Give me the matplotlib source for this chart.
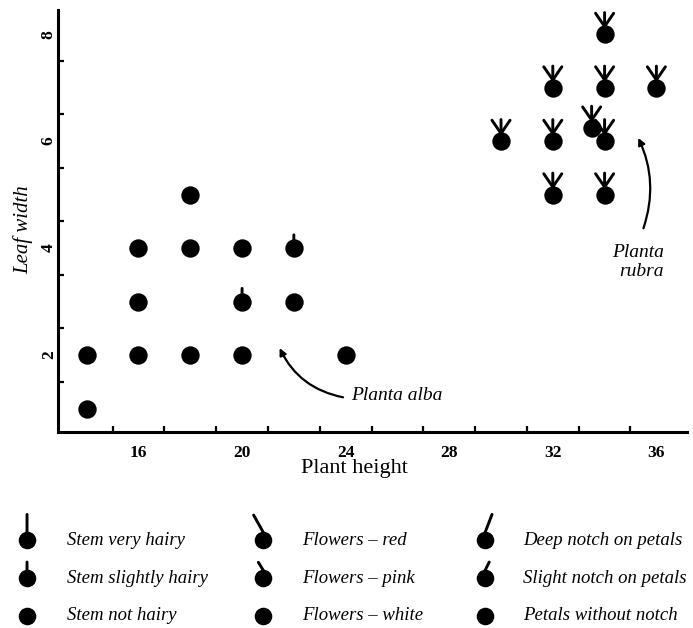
import numpy as np
import matplotlib.pyplot as plt
from matplotlib import transforms
from matplotlib.ticker import FixedLocator

plt.rcParams['font.family'] = ['Liberation Serif', 'DejaVu Serif']

# plant data: height, leaf width, hairiness / flower colour / notch (0 none, 1 slight, 2 strong)
height = [14, 14, 16, 18, 20, 24, 16, 20, 22, 16, 18, 20, 22, 18,
          30, 32, 33.5, 34, 32, 34, 32, 34, 36, 34]
width = [1, 2, 2, 2, 2, 2, 3, 3, 3, 4, 4, 4, 4, 5,
         6, 6, 6.25, 6, 5, 5, 7, 7, 7, 8]
hair = [0, 0, 0, 0, 0, 0, 0, 1, 0, 0, 0, 0, 1, 0,
        2, 2, 2, 2, 2, 2, 2, 2, 2, 2]
flower = [0] * 14 + [2] * 10
notch = [0] * 14 + [2] * 10

xticks = [16, 20, 24, 28, 32, 36]
yticks = [2, 4, 6, 8]

legend_rows = [
    [("Stem very hairy", 2, 0, 0), ("Stem slightly hairy", 1, 0, 0), ("Stem not hairy", 0, 0, 0)],
    [("Flowers – red", 0, 2, 0), ("Flowers – pink", 0, 1, 0), ("Flowers – white", 0, 0, 0)],
    [("Deep notch on petals", 0, 0, 2), ("Slight notch on petals", 0, 0, 1), ("Petals without notch", 0, 0, 0)],
]


def draw_glyph(a, x, y, h, f, n, r, arms):
    # arms: offsets (points) from top of the circle for each level
    start = transforms.offset_copy(a.transData, fig=a.figure, x=0, y=r, units='points')
    lines = []
    if h:
        lines.append(arms['hair'][h])
    if f:
        lines.append(arms['flower'][f])
    if n:
        lines.append(arms['notch'][n])
    for dx, dy in lines:
        a.annotate('', xy=(x, y), xycoords=start, xytext=(dx, dy), textcoords='offset points',
                   arrowprops=dict(arrowstyle='-', lw=2.1, color='black', shrinkA=0, shrinkB=0),
                   zorder=3)


fig = plt.figure(figsize=(6.93, 6.28), dpi=100)
ax = fig.add_axes([0.084, 0.312, 0.908, 0.672])

ax.scatter(height, width, s=175, color='black', zorder=4, linewidths=0)
plot_arms = {'hair': {1: (0, 4), 2: (0, 10)},
             'flower': {1: (-3, 5), 2: (-6.5, 9.5)},
             'notch': {1: (3, 5), 2: (6.5, 9.5)}}
for x, y, h, f, n in zip(height, width, hair, flower, notch):
    draw_glyph(ax, x, y, h, f, n, 5.5, plot_arms)

ax.set_xlim(12.9, 37.2)
ax.set_ylim(0.56, 8.45)
for s in ['top', 'right']:
    ax.spines[s].set_visible(False)
for s in ['left', 'bottom']:
    ax.spines[s].set_linewidth(2.2)

ax.xaxis.set_major_locator(FixedLocator(xticks))
ax.yaxis.set_major_locator(FixedLocator(yticks))
ax.xaxis.set_minor_locator(FixedLocator(np.arange(15, 37, 2)))
ax.yaxis.set_minor_locator(FixedLocator(np.arange(1.5, 8, 1)))
ax.tick_params(which='major', length=0, labelsize=12.5)
ax.tick_params(axis='x', which='major', pad=9)
ax.tick_params(axis='y', which='major', pad=1, labelrotation=90)
ax.tick_params(which='minor', direction='in', length=4, width=1.6)
for lab in ax.get_xticklabels() + ax.get_yticklabels():
    lab.set_fontweight('bold')
for lab in ax.get_yticklabels():
    lab.set_va('center')

ax.set_xlabel("Plant height", fontsize=16)
ax.xaxis.set_label_coords(0.471, -0.064)
ax.set_ylabel("Leaf width", fontsize=15, style='italic')
ax.yaxis.set_label_coords(-0.040, 0.479)

ax.annotate('', xy=(21.45, 2.13), xytext=(23.9, 1.21),
            arrowprops=dict(arrowstyle='-|>', lw=1.6, color='black', mutation_scale=10,
                            connectionstyle='arc3,rad=-0.25', shrinkA=0, shrinkB=0))
ax.text(24.2, 1.25, "Planta alba", fontsize=14, style='italic', va='center', ha='left')
ax.annotate('', xy=(35.3, 6.06), xytext=(35.5, 4.37),
            arrowprops=dict(arrowstyle='-|>', lw=1.6, color='black', mutation_scale=10,
                            connectionstyle='arc3,rad=0.2', shrinkA=0, shrinkB=0))
ax.text(35.3, 3.74, "Planta\nrubra", fontsize=14, style='italic', va='center', ha='center',
        multialignment='right', linespacing=1.1)

# legend
lax = fig.add_axes([0, 0, 1, 0.2])
lax.set_xlim(0, 1)
lax.set_ylim(0, 1)
lax.axis('off')
leg_arms = {'hair': {1: (0, 6), 2: (0, 13)},
            'flower': {1: (-3.6, 5.8), 2: (-7, 12.5)},
            'notch': {1: (3, 6), 2: (5, 13)}}
col_glyph_x = [0.039, 0.380, 0.700]
col_text_x = [0.097, 0.436, 0.755]
row_y = [0.70, 0.398, 0.096]
for ci, col in enumerate(legend_rows):
    for ri, (label, h, f, n) in enumerate(col):
        lax.scatter([col_glyph_x[ci]], [row_y[ri]], s=160, color='black', zorder=4, linewidths=0)
        draw_glyph(lax, col_glyph_x[ci], row_y[ri], h, f, n, 5.5, leg_arms)
        lax.text(col_text_x[ci], row_y[ri], label, fontsize=13.5, style='italic', va='center', ha='left')

fig.savefig("out.png", dpi=100)
